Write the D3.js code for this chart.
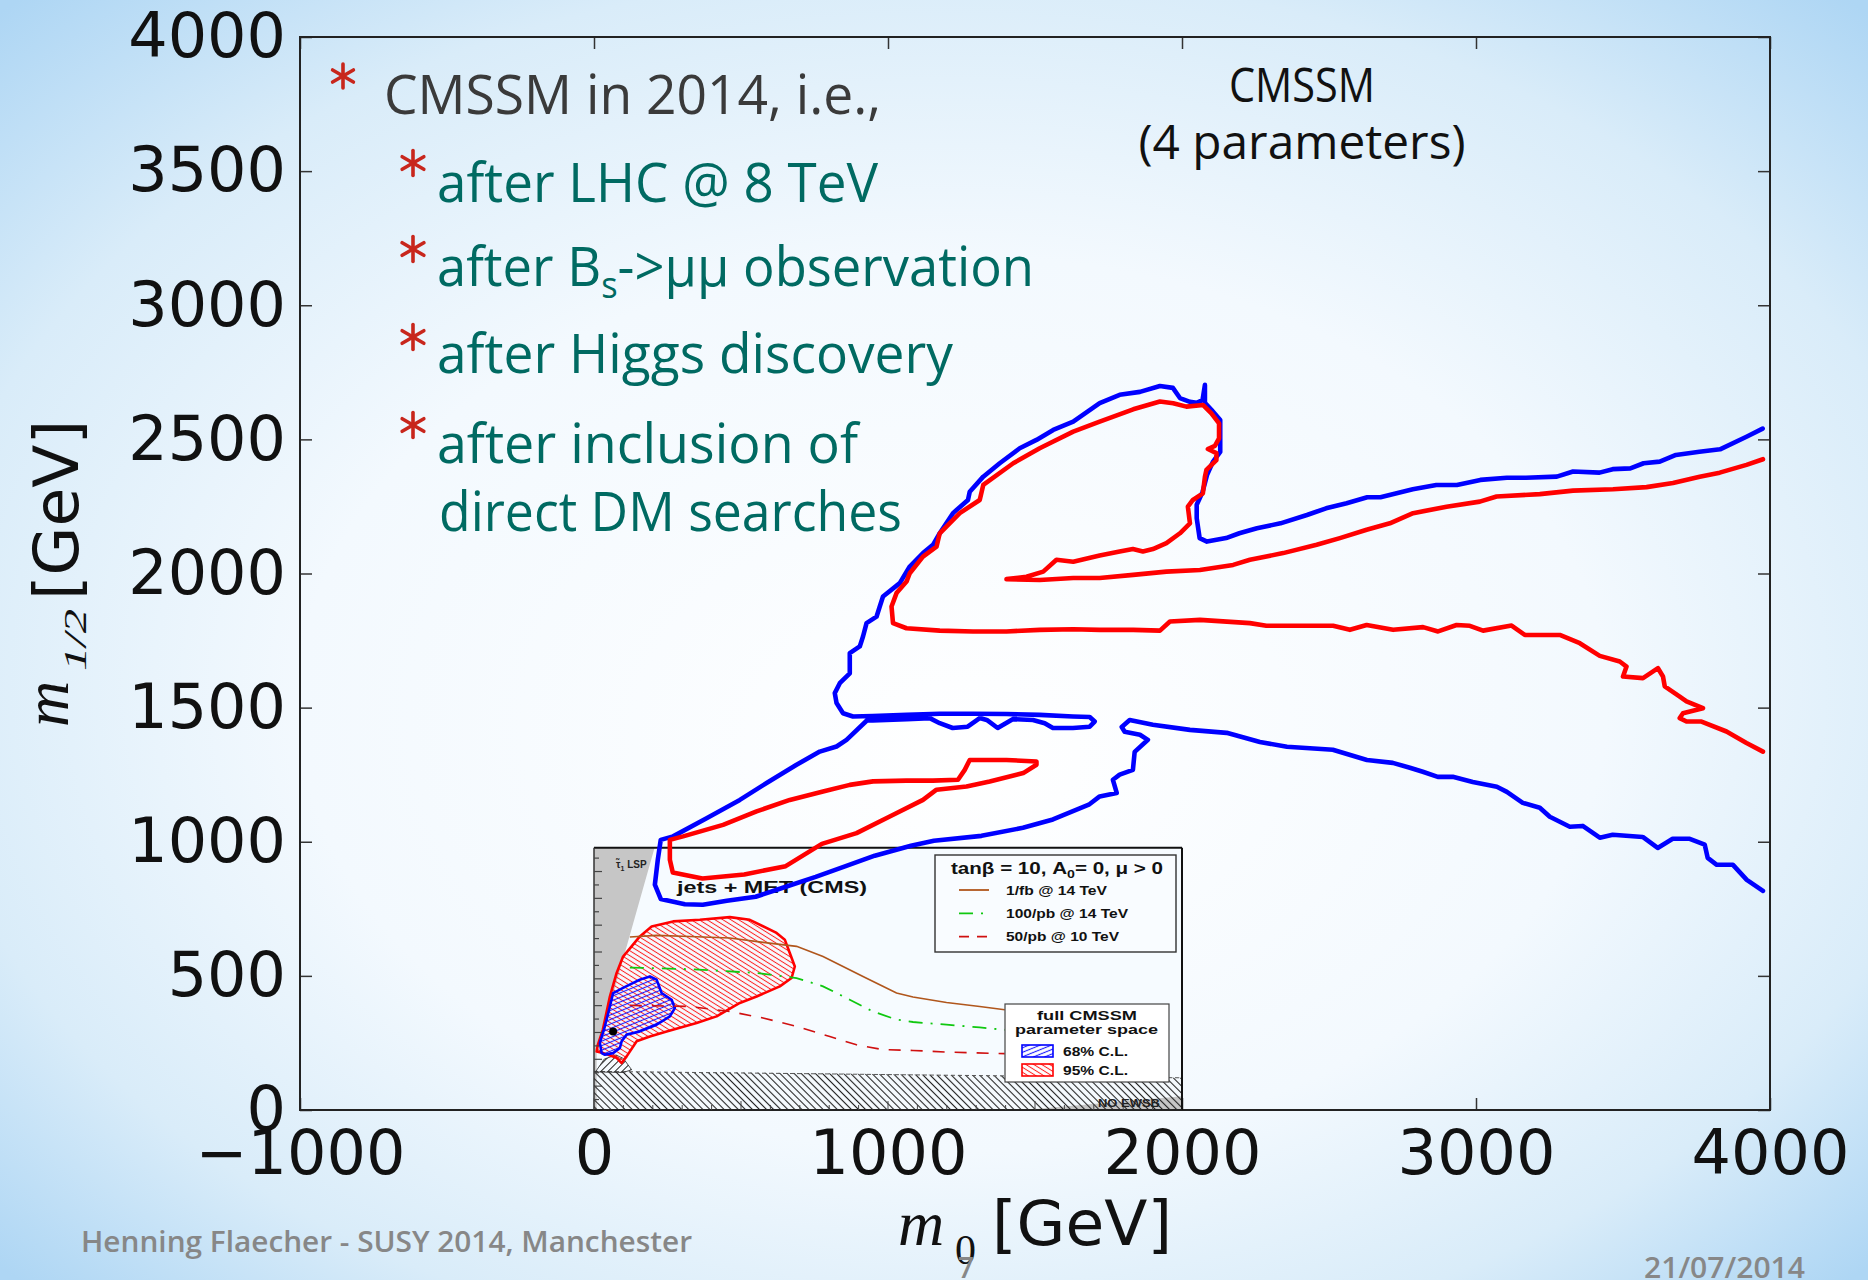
<!DOCTYPE html>
<html>
<head>
<meta charset="utf-8">
<script src="https://cdn.jsdelivr.net/npm/d3@7"></script>
<style>
  html, body { margin: 0; padding: 0; overflow: hidden; }
  svg { display: block; }
</style>
</head>
<body>
<script>
// axis ticks
var xTicks = [-1000, 0, 1000, 2000, 3000, 4000];
var yTicks = [0, 500, 1000, 1500, 2000, 2500, 3000, 3500, 4000];

// blue contour (m0, m1/2) in GeV
var blueContour = [
  [3975,2540],[3920,2510],[3830,2463],[3760,2454],[3680,2442],[3625,2417],[3570,2411],[3525,2392],
  [3465,2389],[3420,2376],[3330,2380],[3275,2361],[3170,2357],[3105,2357],[3015,2349],[2935,2330],
  [2865,2330],[2785,2314],[2675,2284],[2630,2284],[2560,2262],[2490,2243],[2425,2218],[2335,2187],
  [2255,2169],[2195,2150],[2150,2132],[2085,2119],[2060,2132],[2050,2206],[2050,2256],[2070,2304],
  [2085,2367],[2105,2416],[2130,2453],[2130,2498],[2130,2572],[2100,2610],[2078,2636],[2078,2703],
  [2070,2647],[2050,2636],[2027,2640],[1993,2654],[1969,2692],[1925,2699],[1857,2677],[1788,2666],
  [1720,2635],[1630,2566],[1562,2535],[1505,2498],[1448,2467],[1380,2411],[1324,2361],[1278,2305],
  [1272,2274],[1221,2225],[1176,2150],[1153,2107],[1119,2076],[1074,2026],[1040,1964],[983,1914],
  [972,1877],[961,1839],[927,1815],[915,1765],[904,1728],[870,1703],[870,1628],[836,1591],
  [819,1554],[825,1517],[847,1479],[881,1467],
  [948,1469],[1064,1473],[1176,1477],[1288,1477],[1404,1476],[1516,1473],[1629,1467],[1686,1465],
  [1703,1448],[1686,1429],[1629,1424],[1561,1424],[1533,1442],[1493,1454],[1424,1457],[1373,1424],
  [1336,1454],[1312,1461],[1271,1429],[1220,1424],[1176,1442],[1142,1461],[1064,1457],[948,1452],
  [928,1452],
  [859,1380],[825,1355],[768,1336],[689,1287],[587,1219],[496,1156],[383,1088],[269,1020],
  [227,1007],[217,933],[207,840],[227,787],[309,767],[370,765],[452,780],[550,795],
  [632,825],[754,869],[856,909],[955,948],[1078,985],[1156,1004],[1318,1022],[1459,1052],
  [1561,1083],[1683,1138],[1720,1169],[1778,1182],[1765,1231],[1788,1250],[1833,1268],[1839,1335],
  [1884,1380],[1857,1399],[1805,1410],[1795,1428],[1822,1454],[1901,1436],[2027,1417],[2152,1406],
  [2265,1372],[2357,1354],[2513,1343],[2629,1305],[2717,1294],[2775,1276],[2819,1261],[2870,1242],
  [2921,1242],[2989,1223],[3071,1205],[3105,1186],[3159,1145],[3217,1127],[3251,1093],[3319,1056],
  [3363,1059],[3421,1015],[3465,1026],[3567,1018],[3618,977],[3669,1011],[3727,1011],[3778,989],
  [3788,940],[3819,914],[3874,914],[3921,858],[3976,817]
];

// red contour, main branch
var redContour = [
  [3976,2426],[3920,2405],[3829,2376],[3761,2361],[3670,2337],[3580,2322],[3466,2314],[3330,2309],
  [3217,2296],[3070,2287],[3013,2268],[2900,2249],[2786,2225],[2707,2187],[2628,2163],[2537,2132],
  [2458,2107],[2344,2076],[2231,2051],[2174,2032],[2061,2013],[1947,2007],[1834,1995],[1720,1983],
  [1630,1983],[1516,1976],[1403,1979],
  [1471,1988],[1528,2007],[1573,2051],[1630,2044],[1720,2067],[1788,2082],[1833,2091],[1867,2082],
  [1901,2091],[1947,2113],[1993,2150],[2027,2187],[2020,2249],[2037,2274],[2071,2299],[2078,2361],
  [2083,2386],[2117,2423],[2117,2449],[2088,2464],[2112,2476],[2126,2504],[2126,2560],[2100,2597],
  [2072,2628],[2015,2622],[1970,2635],[1925,2641],[1834,2612],[1720,2566],[1630,2529],[1516,2467],
  [1426,2411],[1324,2330],[1312,2274],[1244,2225],[1176,2150],[1165,2100],[1119,2063],[1074,2001],
  [1063,1970],[1029,1927],[1012,1877],[1017,1815],[1063,1796],[1176,1787],[1289,1784],[1403,1784],
  [1516,1790],[1630,1792],[1720,1790],[1834,1790],[1925,1787],[1959,1821],[2061,1827],[2231,1815],
  [2287,1805],[2514,1805],[2571,1790],[2628,1808],[2718,1790],[2820,1800],[2871,1784],[2934,1808],
  [2979,1805],[3024,1787],[3121,1806],[3166,1771],[3285,1771],[3353,1740],[3421,1693],[3489,1672],
  [3512,1653],[3500,1616],[3568,1610],[3619,1647],[3636,1616],[3642,1579],[3693,1541],[3716,1523],
  [3772,1498],[3704,1479],[3693,1461],[3716,1448],[3767,1448],[3852,1411],[3920,1368],[3976,1336]
];

// red contour, closed island at low m0
var redIsland = [
  [1505,1299],[1403,1305],[1278,1305],[1261,1268],[1238,1231],[1153,1228],[1063,1228],[949,1225],
  [870,1212],[779,1187],[666,1156],[553,1113],[439,1063],[303,1020],[258,1007],[258,933],
  [268,885],[369,863],[511,878],[652,909],[775,992],[893,1032],[1006,1094],[1119,1156],
  [1165,1194],[1267,1206],[1346,1225],[1460,1256],[1505,1287]
];

// inset (old CMS plot), in the same m0 / m1/2 coordinates
var insetRange = [[0, 2000], [0, 978]];
var inset95 = [
  [9,218],[30,213],[76,195],[94,175],[111,200],[145,256],[190,274],[247,293],[349,324],[417,349],
  [496,399],[553,423],[632,461],[672,492],[683,535],[666,585],[649,635],[621,660],[530,709],
  [462,719],[360,709],[269,703],[196,684],[156,647],[99,572],[77,511],[54,423],[30,299],[13,243]
];
var inset68 = [
  [37,206],[26,212],[20,250],[37,312],[54,386],[65,436],[99,455],[156,486],[190,498],[213,486],
  [230,436],[264,411],[275,380],[258,349],[213,318],[156,293],[111,281],[94,256],[88,231],[65,212]
];
var bestFit = [65, 293];
var reach1fb14 = [
  [122,645],[213,651],[326,647],[462,641],[575,625],[689,610],[779,572],[847,535],[915,498],
  [972,467],[1029,436],[1085,421],[1199,401],[1312,386],[1397,374]
];
var reach100pb14 = [
  [122,531],[326,525],[553,511],[689,492],[779,461],[870,411],[949,367],[1029,337],[1085,328],
  [1199,318],[1312,308],[1397,299]
];
var reach50pb10 = [
  [122,390],[326,386],[462,367],[575,343],[689,312],[802,274],[893,243],[983,225],[1085,222],
  [1199,216],[1397,210]
];
var lspRegion = [[0,978],[206,978],[9,214],[9,0],[0,0]];
var noEwsbHatch = [[0,0],[0,144],[700,138],[1400,128],[2000,120],[2000,0]];
var noEwsbGray = [[1460,0],[2000,51],[2000,0]];
var crossPatch = [[5,142],[35,190],[75,205],[100,192],[128,150],[100,140]];
var insetLegend = ["1/fb @ 14 TeV", "100/pb @ 14 TeV", "50/pb @ 10 TeV"];

function main() {
  var W = 1868, H = 1280;
  var L = 300, R = 1770, T = 37, B = 1110;

  var svg = d3.select("body").append("svg").attr("width", W).attr("height", H);
  var defs = svg.append("defs");

  // slide background
  var grad = defs.append("radialGradient").attr("id", "bg")
    .attr("cx", 0.5).attr("cy", 0.5).attr("r", 0.7).attr("fx", 0.52).attr("fy", 0.6);
  [[0, "#ffffff"], [0.5, "#f3f9fe"], [0.78, "#d9ecf9"], [1, "#aed6f4"]].forEach(function (s) {
    grad.append("stop").attr("offset", s[0]).attr("stop-color", s[1]);
  });
  svg.append("rect").attr("width", W).attr("height", H).attr("fill", "url(#bg)");

  function hatch(id, color, angle, gap, sw) {
    var p = defs.append("pattern").attr("id", id).attr("patternUnits", "userSpaceOnUse")
      .attr("width", 10).attr("height", gap)
      .attr("patternTransform", "rotate(" + angle + ")");
    p.append("line").attr("x1", 0).attr("x2", 10).attr("y1", gap / 2).attr("y2", gap / 2)
      .attr("stroke", color).attr("stroke-width", sw);
  }
  hatch("hR", "#ff2020", 32, 4.2, 1);
  hatch("hB", "#1a1aff", -22, 4.2, 1.1);
  hatch("hK", "#222", 45, 5, 1.1);
  hatch("hK2", "#222", -45, 5, 1);

  var x = d3.scaleLinear().domain([-1000, 4000]).range([L, R]);
  var y = d3.scaleLinear().domain([0, 4000]).range([B, T]);
  var line = d3.line().x(function (d) { return x(d[0]); }).y(function (d) { return y(d[1]); });

  // axes (matplotlib style, ticks inward on all four sides)
  var tickFont = "'DejaVu Sans', sans-serif";
  var ax = svg.append("g").attr("transform", "translate(0," + B + ")")
    .call(d3.axisBottom(x).tickValues(xTicks).tickSize(-12).tickPadding(20).tickFormat(d3.format("d")));
  var ay = svg.append("g").attr("transform", "translate(" + L + ",0)")
    .call(d3.axisLeft(y).tickValues(yTicks).tickSize(-12).tickPadding(14).tickFormat(d3.format("d")));
  svg.append("g").attr("transform", "translate(0," + T + ")")
    .call(d3.axisTop(x).tickValues(xTicks).tickSize(-12).tickFormat(""));
  svg.append("g").attr("transform", "translate(" + R + ",0)")
    .call(d3.axisRight(y).tickValues(yTicks).tickSize(-12).tickFormat(""));
  svg.selectAll(".domain").remove();
  svg.selectAll(".tick line").attr("stroke", "#333").attr("stroke-width", 1.5);
  [ax, ay].forEach(function (g) {
    g.selectAll("text").attr("font-family", tickFont).attr("font-size", 62).attr("fill", "#111");
  });
  svg.append("rect").attr("x", L).attr("y", T).attr("width", R - L).attr("height", B - T)
    .attr("fill", "none").attr("stroke", "#222").attr("stroke-width", 2);

  // ---- inset plot ----
  var ins = svg.append("g");
  var ix0 = x(insetRange[0][0]), ix1 = x(insetRange[0][1]);
  var iy0 = y(insetRange[1][0]), iy1 = y(insetRange[1][1]);
  ins.append("rect").attr("x", ix0).attr("y", iy1).attr("width", ix1 - ix0).attr("height", iy0 - iy1)
    .attr("fill", "#f6fbff");
  var poly = function (pts) { return line(pts) + "Z"; };
  ins.append("path").attr("d", poly(lspRegion)).attr("fill", "#c6c6c6");
  ins.append("path").attr("d", poly(noEwsbGray)).attr("fill", "#c6c6c6");
  ins.append("path").attr("d", poly(noEwsbHatch)).attr("fill", "url(#hK)");
  ins.append("path").attr("d", line([[0, 144], [2000, 120]])).attr("stroke", "#555")
    .attr("stroke-width", 1).attr("stroke-dasharray", "4,3").attr("fill", "none");
  ins.append("path").attr("d", poly(crossPatch)).attr("fill", "url(#hK2)").attr("stroke", "#222").attr("stroke-width", 0.8);
  ins.append("path").attr("d", poly(inset95)).attr("fill", "url(#hR)")
    .attr("stroke", "#ff0000").attr("stroke-width", 2.6).attr("stroke-linejoin", "round");
  ins.append("path").attr("d", poly(inset68)).attr("fill", "url(#hB)")
    .attr("stroke", "#0000ff").attr("stroke-width", 2.6).attr("stroke-linejoin", "round");
  ins.append("path").attr("d", line(reach1fb14)).attr("fill", "none")
    .attr("stroke", "#b0561c").attr("stroke-width", 1.6);
  ins.append("path").attr("d", line(reach100pb14)).attr("fill", "none")
    .attr("stroke", "#10c810").attr("stroke-width", 1.8).attr("stroke-dasharray", "14,8,2,8");
  ins.append("path").attr("d", line(reach50pb10)).attr("fill", "none")
    .attr("stroke", "#d01010").attr("stroke-width", 1.6).attr("stroke-dasharray", "12,10");
  ins.append("circle").attr("cx", x(bestFit[0])).attr("cy", y(bestFit[1])).attr("r", 4).attr("fill", "#000");

  // inset frame and ticks
  var iyScale = d3.scaleLinear().domain([0, 1000]).range([y(-11), y(989)]);
  ins.append("line").attr("x1", ix0).attr("x2", ix1).attr("y1", iy1).attr("y2", iy1)
    .attr("stroke", "#111").attr("stroke-width", 2);
  ins.append("line").attr("x1", ix1).attr("x2", ix1).attr("y1", iy1).attr("y2", iy0)
    .attr("stroke", "#111").attr("stroke-width", 2);
  ins.append("line").attr("x1", ix0).attr("x2", ix0).attr("y1", iy1).attr("y2", iy0)
    .attr("stroke", "#333").attr("stroke-width", 1.5);
  ins.append("line").attr("x1", ix0).attr("x2", ix1).attr("y1", iy0).attr("y2", iy0)
    .attr("stroke", "#222").attr("stroke-width", 2);
  d3.range(50, 1000, 50).forEach(function (v) {
    var yy = iyScale(v);
    if (yy < iy1) return;
    ins.append("line").attr("x1", ix0).attr("x2", ix0 + (v % 100 === 0 ? 8 : 5))
      .attr("y1", yy).attr("y2", yy).attr("stroke", "#444").attr("stroke-width", 1.2);
  });
  d3.range(100, 2000, 100).forEach(function (v) {
    ins.append("line").attr("x1", x(v)).attr("x2", x(v)).attr("y1", iy0).attr("y2", iy0 - (v % 500 === 0 ? 9 : 5))
      .attr("stroke", "#444").attr("stroke-width", 1);
  });

  var helv = "'Liberation Sans', Arial, sans-serif";
  // legend 1
  ins.append("rect").attr("x", 935).attr("y", 855).attr("width", 241).attr("height", 97)
    .attr("fill", "#fbfdff").attr("fill-opacity", 0.6).attr("stroke", "#333").attr("stroke-width", 1.4);
  var t1 = ins.append("text").attr("x", 951).attr("y", 874).attr("font-family", helv)
    .attr("font-weight", "bold").attr("font-size", 16).attr("fill", "#111")
    .attr("textLength", 212).attr("lengthAdjust", "spacingAndGlyphs");
  t1.append("tspan").text("tanβ = 10, A");
  t1.append("tspan").attr("font-size", 11).attr("dy", 4).text("0");
  t1.append("tspan").attr("dy", -4).text("= 0, μ > 0");
  var legStyles = [
    { c: "#b0561c", dash: null }, { c: "#10c810", dash: "14,8,2,8" }, { c: "#d01010", dash: "10,8" }
  ];
  var legW = [101, 122, 113];
  insetLegend.forEach(function (s, i) {
    var ly = 890 + i * 23.3;
    ins.append("line").attr("x1", 959).attr("x2", 989).attr("y1", ly).attr("y2", ly)
      .attr("stroke", legStyles[i].c).attr("stroke-width", 1.8).attr("stroke-dasharray", legStyles[i].dash);
    ins.append("text").attr("x", 1006).attr("y", ly + 4.5).attr("font-family", helv)
      .attr("font-weight", "bold").attr("font-size", 12.5).attr("fill", "#111")
      .attr("textLength", legW[i]).attr("lengthAdjust", "spacingAndGlyphs").text(s);
  });
  // legend 2
  ins.append("rect").attr("x", 1005).attr("y", 1004).attr("width", 164).attr("height", 78)
    .attr("fill", "#ffffff").attr("stroke", "#444").attr("stroke-width", 1.2);
  ins.append("text").attr("x", 1037).attr("y", 1020).attr("font-family", helv).attr("font-weight", "bold")
    .attr("font-size", 13).attr("fill", "#111").attr("textLength", 100).attr("lengthAdjust", "spacingAndGlyphs")
    .text("full CMSSM");
  ins.append("text").attr("x", 1015).attr("y", 1034).attr("font-family", helv).attr("font-weight", "bold")
    .attr("font-size", 13).attr("fill", "#111").attr("textLength", 143).attr("lengthAdjust", "spacingAndGlyphs")
    .text("parameter space");
  [["hB", "#0000ff", "68% C.L.", 1045], ["hR", "#ff0000", "95% C.L.", 1064]].forEach(function (r) {
    ins.append("rect").attr("x", 1022).attr("y", r[3]).attr("width", 31).attr("height", 12)
      .attr("fill", "url(#" + r[0] + ")").attr("stroke", r[1]).attr("stroke-width", 1.6);
    ins.append("text").attr("x", 1063).attr("y", r[3] + 10.5).attr("font-family", helv).attr("font-weight", "bold")
      .attr("font-size", 12).attr("fill", "#111").attr("textLength", 65).attr("lengthAdjust", "spacingAndGlyphs")
      .text(r[2]);
  });
  ins.append("text").attr("x", 677).attr("y", 893).attr("font-family", helv).attr("font-weight", "bold")
    .attr("font-size", 16.5).attr("fill", "#111").attr("textLength", 190).attr("lengthAdjust", "spacingAndGlyphs")
    .text("jets + MET (CMS)");
  var tau = ins.append("text").attr("x", 616).attr("y", 868).attr("font-family", helv)
    .attr("font-weight", "bold").attr("font-size", 10).attr("fill", "#222");
  tau.append("tspan").text("τ̃");
  tau.append("tspan").attr("font-size", 7).attr("dy", 3).text("1");
  tau.append("tspan").attr("dy", -3).text(" LSP");
  ins.append("text").attr("x", 1098).attr("y", 1107).attr("font-family", helv).attr("font-weight", "bold")
    .attr("font-size", 11).attr("fill", "#222").attr("textLength", 62).attr("lengthAdjust", "spacingAndGlyphs")
    .text("NO EWSB");

  // ---- contours ----
  var cont = svg.append("g").attr("fill", "none").attr("stroke-width", 4.6)
    .attr("stroke-linejoin", "round").attr("stroke-linecap", "round");
  cont.append("path").attr("d", line(blueContour)).attr("stroke", "#0000ff");
  cont.append("path").attr("d", line(redContour)).attr("stroke", "#ff0000");
  cont.append("path").attr("d", line(redIsland) + "Z").attr("stroke", "#ff0000");

  // ---- axis titles ----
  var serif = "'Liberation Serif', 'DejaVu Serif', serif";
  svg.append("text").attr("x", 898).attr("y", 1245).attr("font-family", serif).attr("font-style", "italic")
    .attr("font-size", 64).attr("fill", "#111").text("m");
  svg.append("text").attr("x", 955).attr("y", 1264).attr("font-family", serif)
    .attr("font-size", 42).attr("fill", "#111").text("0");
  svg.append("text").attr("x", 992).attr("y", 1245).attr("font-family", tickFont)
    .attr("font-size", 62).attr("fill", "#111").attr("textLength", 180).attr("lengthAdjust", "spacingAndGlyphs")
    .text("[GeV]");
  var yl = svg.append("g").attr("transform", "rotate(-90)");
  yl.append("text").attr("x", -727).attr("y", 68).attr("font-family", serif).attr("font-style", "italic")
    .attr("font-size", 64).attr("fill", "#111").text("m");
  yl.append("text").attr("x", -671).attr("y", 86).attr("font-family", serif).attr("font-style", "italic")
    .attr("font-size", 32).attr("fill", "#111").attr("textLength", 62).attr("lengthAdjust", "spacingAndGlyphs")
    .text("1/2");
  yl.append("text").attr("x", -600).attr("y", 78).attr("font-family", tickFont)
    .attr("font-size", 62).attr("fill", "#111").attr("textLength", 180).attr("lengthAdjust", "spacingAndGlyphs")
    .text("[GeV]");

  // ---- slide text ----
  var sans = "'Open Sans', 'Noto Sans', sans-serif";
  var teal = "#006a62";
  function star(cx, cy, r) {
    [90, 30, 150].forEach(function (a) {
      var rad = a * Math.PI / 180;
      svg.append("line").attr("x1", cx - r * Math.cos(rad)).attr("y1", cy - r * Math.sin(rad))
        .attr("x2", cx + r * Math.cos(rad)).attr("y2", cy + r * Math.sin(rad))
        .attr("stroke", "#c8261c").attr("stroke-width", 3.6).attr("stroke-linecap", "round");
    });
  }
  star(343, 76, 12);
  [163, 249, 337, 425].forEach(function (cy) { star(413, cy, 12.5); });

  function slideText(s, x0, yb, len, col, size) {
    return svg.append("text").attr("x", x0).attr("y", yb).attr("font-family", sans)
      .attr("font-size", size || 55).attr("fill", col)
      .attr("textLength", len).attr("lengthAdjust", "spacingAndGlyphs").text(s);
  }
  slideText("CMSSM in 2014, i.e.,", 384, 114, 497, "#3a3a3a");
  slideText("after LHC @ 8 TeV", 437, 202, 441, teal);
  var bs = svg.append("text").attr("x", 437).attr("y", 286).attr("font-family", sans)
    .attr("font-size", 55).attr("fill", teal).attr("textLength", 597).attr("lengthAdjust", "spacingAndGlyphs");
  bs.append("tspan").text("after B");
  bs.append("tspan").attr("font-size", 36).attr("dy", 12).text("s");
  bs.append("tspan").attr("dy", -12).text("->μμ observation");
  slideText("after Higgs discovery", 437, 373, 516, teal);
  slideText("after inclusion of", 437, 463, 421, teal);
  slideText("direct DM searches", 439, 531, 463, teal);

  svg.append("text").attr("x", 1302).attr("y", 102).attr("text-anchor", "middle").attr("font-family", sans)
    .attr("font-size", 48).attr("fill", "#111").attr("textLength", 146).attr("lengthAdjust", "spacingAndGlyphs")
    .text("CMSSM");
  svg.append("text").attr("x", 1302).attr("y", 159).attr("text-anchor", "middle").attr("font-family", sans)
    .attr("font-size", 48).attr("fill", "#111").attr("textLength", 327).attr("lengthAdjust", "spacingAndGlyphs")
    .text("(4 parameters)");

  // footer
  var grey = "#878787";
  svg.append("text").attr("x", 81).attr("y", 1252).attr("font-family", sans).attr("font-weight", 600)
    .attr("font-size", 28).attr("fill", grey).attr("textLength", 611).attr("lengthAdjust", "spacingAndGlyphs")
    .text("Henning Flaecher - SUSY 2014, Manchester");
  svg.append("text").attr("x", 1644).attr("y", 1278).attr("font-family", sans).attr("font-weight", 600)
    .attr("font-size", 28).attr("fill", grey).attr("textLength", 161).attr("lengthAdjust", "spacingAndGlyphs")
    .text("21/07/2014");
  svg.append("text").attr("x", 958).attr("y", 1278).attr("font-family", sans).attr("font-weight", 600)
    .attr("font-size", 28).attr("fill", grey).text("7");
}
document.addEventListener("DOMContentLoaded", main);
</script>
</body>
</html>
